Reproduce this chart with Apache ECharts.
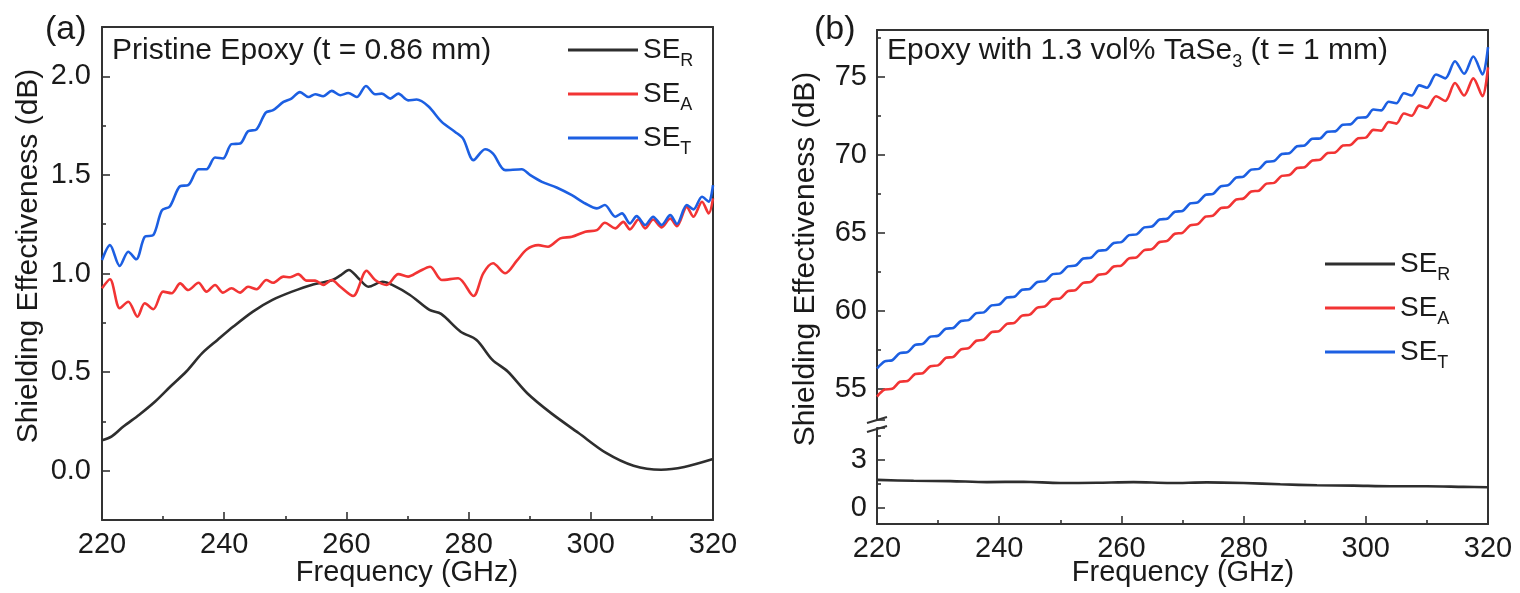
<!DOCTYPE html>
<html>
<head>
<meta charset="utf-8">
<script src="https://cdn.jsdelivr.net/npm/echarts@6/dist/echarts.min.js"></script>
<style>
html,body{margin:0;padding:0;background:#ffffff;}
#chart{width:1520px;height:593px;}
</style>
</head>
<body>
<div id="chart"></div>
<script>
// ---------------- DATA ----------------
// Panel (a): Pristine Epoxy (t = 0.86 mm)
const aFreqR = [220,221.6,223.5,226.1,228.7,231.2,233.8,236.4,238.9,241.5,244.7,247.9,251.1,254.3,257.5,259.1,260.4,262.0,263.6,265.9,267.5,270.4,273.6,275.5,278.7,281.3,283.9,286.4,289.6,293.5,298.0,302.5,307.0,311.5,315.3,320];
const aSER   = [0.154,0.174,0.224,0.284,0.351,0.427,0.503,0.596,0.663,0.731,0.807,0.866,0.908,0.942,0.964,0.992,1.018,0.975,0.933,0.958,0.942,0.891,0.815,0.795,0.705,0.663,0.562,0.503,0.393,0.292,0.191,0.090,0.025,0.005,0.019,0.059];

const aFreqA = [220,221.3,222.9,224.3,225.8,227.0,228.4,230.0,231.4,232.8,234.1,235.8,237.1,238.5,239.8,241.2,242.6,243.9,245.3,246.9,248.0,249.7,250.8,252.1,253.5,254.9,256.2,257.6,259.0,261.1,263.3,264.7,266.6,268.5,270.1,271.8,273.7,275.6,278.3,280.8,282.4,284.0,286.0,287.9,289.5,291.4,293.0,295.0,296.9,299.1,301.0,302.3,304.0,305.3,306.4,307.8,308.9,310.2,311.6,313.0,314.1,315.7,316.8,318.2,319.3,320];
const aSEA   = [0.925,0.971,0.824,0.857,0.781,0.849,0.819,0.908,0.900,0.950,0.916,0.953,0.908,0.942,0.903,0.925,0.903,0.933,0.920,0.967,0.953,0.984,0.981,0.997,0.964,0.964,0.942,0.967,0.933,0.886,1.014,0.967,0.942,0.997,0.984,1.009,1.034,0.967,0.976,0.886,1.001,1.052,1.001,1.065,1.122,1.144,1.136,1.178,1.186,1.212,1.220,1.257,1.229,1.262,1.224,1.274,1.229,1.274,1.234,1.279,1.240,1.338,1.288,1.364,1.305,1.381];

const aFreqT = [220,221.3,222.9,224.3,225.6,227.0,228.4,229.8,231.1,232.8,234.1,235.8,237.1,238.5,239.8,241.2,242.6,243.9,245.3,246.8,248.0,249.7,251.0,252.4,253.8,254.9,256.2,257.6,259.0,260.3,261.7,263.2,264.7,265.8,267.2,268.5,270.1,271.5,273.4,275.6,277.8,279.1,280.8,282.7,284.0,286.0,288.7,290.1,292.0,294.4,296.9,299.1,301.0,302.3,304.0,305.1,306.4,307.5,308.9,310.2,311.6,313.0,314.1,315.7,316.8,318.2,319.3,320];
const aSET   = [1.068,1.144,1.038,1.110,1.072,1.186,1.195,1.320,1.340,1.443,1.448,1.529,1.529,1.588,1.583,1.656,1.659,1.721,1.731,1.816,1.828,1.870,1.887,1.920,1.895,1.909,1.899,1.926,1.904,1.915,1.895,1.951,1.909,1.912,1.887,1.912,1.878,1.882,1.848,1.769,1.718,1.684,1.575,1.630,1.608,1.524,1.529,1.499,1.465,1.436,1.397,1.355,1.330,1.347,1.288,1.305,1.254,1.291,1.246,1.288,1.246,1.296,1.251,1.347,1.325,1.389,1.364,1.448];

// Panel (b): Epoxy with 1.3 vol% TaSe3 (t = 1 mm)
const bFreq = [220,221.25,222.5,223.75,225,226.25,227.5,228.75,230,231.25,232.5,233.75,235,236.25,237.5,238.75,240,241.25,242.5,243.75,245,246.25,247.5,248.75,250,251.25,252.5,253.75,255,256.25,257.5,258.75,260,261.25,262.5,263.75,265,266.25,267.5,268.75,270,271.25,272.5,273.75,275,276.25,277.5,278.75,280,281.25,282.5,283.75,285,286.25,287.5,288.75,290,291.25,292.5,293.75,295,296.25,297.5,298.75,300,301.25,302.5,303.75,305,306.25,307.5,308.75,310,311.5,313,314.6,316.1,317.6,319.1,320];
const bSET = [56.30,56.76,56.83,57.29,57.35,57.81,57.88,58.34,58.40,58.85,58.90,59.35,59.40,59.85,59.90,60.35,60.40,60.85,60.90,61.35,61.40,61.85,61.90,62.35,62.40,62.85,62.90,63.35,63.40,63.85,63.90,64.35,64.40,64.85,64.90,65.35,65.40,65.85,65.90,66.35,66.40,66.88,66.95,67.43,67.50,67.98,68.05,68.53,68.60,69.05,69.10,69.55,69.60,70.05,70.10,70.55,70.60,71.03,71.05,71.48,71.50,71.93,71.95,72.38,72.40,72.90,72.85,73.40,73.30,73.95,73.80,74.45,74.30,75.15,74.90,76.00,75.20,76.30,75.15,76.90];
const bSEA = [54.50,54.95,55.00,55.45,55.50,55.95,56.00,56.45,56.50,56.98,57.05,57.53,57.60,58.08,58.15,58.63,58.70,59.16,59.23,59.69,59.75,60.21,60.28,60.74,60.80,61.26,61.33,61.79,61.85,62.31,62.38,62.84,62.90,63.36,63.43,63.89,63.95,64.41,64.48,64.94,65.00,65.48,65.55,66.03,66.10,66.58,66.65,67.13,67.20,67.65,67.70,68.15,68.20,68.65,68.70,69.15,69.20,69.64,69.68,70.11,70.15,70.59,70.63,71.06,71.10,71.60,71.55,72.10,72.00,72.65,72.50,73.15,73.00,73.75,73.45,74.60,73.80,74.90,73.75,75.60];
const bFreqR = [220,226,232,238,244,250,256,262,268,274,280,286,292,298,304,310,316,320];
const bSER   = [1.76,1.70,1.68,1.62,1.64,1.56,1.58,1.62,1.56,1.60,1.56,1.48,1.42,1.40,1.36,1.36,1.32,1.30];

// Axis settings / tick labels
const freqMin = 220, freqMax = 320, freqStep = 20;
const aYRange = [-0.25, 2.25];
const bUpperRange = [53, 78];
const bLowerRange = [-1, 5];
const seriesNames = ['SE_R', 'SE_A', 'SE_T'];
const subLetters = {SE_R: 'R', SE_A: 'A', SE_T: 'T'};

// ---------------- STYLE ----------------
const FONT = '"Liberation Sans", Arial, Helvetica, sans-serif';
const INK = '#1a1a1a';
const AX = '#333333';
const COL = {SE_R: '#2e2e2e', SE_A: '#f23434', SE_T: '#1c5fe2'};

function zip(xs, ys) { return xs.map((x, i) => [x, ys[i]]); }

function lineAxis(extra) {
  return Object.assign({
    type: 'value', min: 0, max: 1,
    axisLine: {show: true, onZero: false, lineStyle: {color: AX, width: 2}},
    axisTick: {show: false}, minorTick: {show: false},
    axisLabel: {show: false}, splitLine: {show: false}
  }, extra);
}
function tickAxis(extra, labelExtra) {
  return Object.assign({
    type: 'value',
    axisLine: {show: true, onZero: false, lineStyle: {color: AX, width: 2}},
    axisTick: {show: true, inside: true, length: 8, lineStyle: {color: AX, width: 1.6}},
    minorTick: {show: true, splitNumber: 2, length: 4, lineStyle: {color: AX, width: 1.6}},
    axisLabel: Object.assign({fontSize: 29, color: INK, fontFamily: FONT}, labelExtra),
    splitLine: {show: false}, minorSplitLine: {show: false}
  }, extra);
}
function lineSeries(name, xi, yi, data) {
  return {
    type: 'line', name: name, xAxisIndex: xi, yAxisIndex: yi, data: data,
    showSymbol: false, symbol: 'none', smooth: 0.3,
    lineStyle: {color: COL[name], width: 2.6},
    itemStyle: {color: COL[name]}, emphasis: {disabled: true}
  };
}
const legendRich = {
  a: {fontSize: 28, lineHeight: 40, verticalAlign: 'middle', color: INK, fontFamily: FONT},
  b: {fontSize: 18, lineHeight: 18, verticalAlign: 'bottom', color: INK, fontFamily: FONT}
};
function legendAt(left, top) {
  return {
    left: left, top: top, orient: 'vertical', icon: 'rect',
    itemWidth: 70, itemHeight: 3, itemGap: 10, padding: 0,
    data: seriesNames, selectedMode: false,
    formatter: n => '{a|SE}{b|' + subLetters[n] + '}',
    textStyle: {rich: legendRich, fontFamily: FONT}
  };
}

const option = {
  animation: false,
  backgroundColor: '#ffffff',
  textStyle: {fontFamily: FONT},
  grid: [
    {left: 102, top: 27, width: 611, height: 493, outerBoundsMode: 'none', containLabel: false},
    {left: 877, top: 30, width: 611, height: 390, outerBoundsMode: 'none', containLabel: false},
    {left: 877, top: 428, width: 611, height: 96, outerBoundsMode: 'none', containLabel: false},
    {left: 877, top: 30, width: 611, height: 494, outerBoundsMode: 'none', containLabel: false}
  ],
  xAxis: [
    tickAxis({gridIndex: 0, position: 'bottom', min: freqMin, max: freqMax, interval: freqStep},
             {margin: 10, showMinLabel: true, showMaxLabel: true}),
    lineAxis({gridIndex: 0, position: 'top'}),
    {gridIndex: 1, type: 'value', min: freqMin, max: freqMax, show: false, splitLine: {show: false}},
    tickAxis({gridIndex: 2, position: 'bottom', min: freqMin, max: freqMax, interval: freqStep},
             {margin: 10, showMinLabel: true, showMaxLabel: true}),
    lineAxis({gridIndex: 3, position: 'top'})
  ],
  yAxis: [
    tickAxis({gridIndex: 0, position: 'left', min: aYRange[0], max: aYRange[1], splitNumber: 5},
             {margin: 11, showMinLabel: false, showMaxLabel: false, formatter: v => v.toFixed(1)}),
    lineAxis({gridIndex: 0, position: 'right'}),
    tickAxis({gridIndex: 1, position: 'left', min: bUpperRange[0], max: bUpperRange[1], splitNumber: 5},
             {margin: 10, showMinLabel: false, showMaxLabel: false}),
    tickAxis({gridIndex: 2, position: 'left', min: bLowerRange[0], max: bLowerRange[1], splitNumber: 2},
             {margin: 10, showMinLabel: false, showMaxLabel: false}),
    lineAxis({gridIndex: 3, position: 'right'})
  ],
  legend: [legendAt(568, 36), legendAt(1325, 250)],
  series: [
    lineSeries('SE_R', 0, 0, zip(aFreqR, aSER)),
    lineSeries('SE_A', 0, 0, zip(aFreqA, aSEA)),
    lineSeries('SE_T', 0, 0, zip(aFreqT, aSET)),
    lineSeries('SE_R', 3, 3, zip(bFreqR, bSER)),
    lineSeries('SE_A', 2, 2, zip(bFreq, bSEA)),
    lineSeries('SE_T', 2, 2, zip(bFreq, bSET))
  ],
  graphic: [
    {type: 'text', x: 45, y: 30, style: {text: '(a)', font: '34px ' + FONT, fill: INK, align: 'left', verticalAlign: 'middle'}},
    {type: 'text', x: 814, y: 30, style: {text: '(b)', font: '34px ' + FONT, fill: INK, align: 'left', verticalAlign: 'middle'}},
    {type: 'text', x: 112, y: 51, style: {text: 'Pristine Epoxy (t = 0.86 mm)', font: '30px ' + FONT, fill: INK, align: 'left', verticalAlign: 'middle'}},
    {type: 'text', x: 887, y: 51, style: {
      text: '{a|Epoxy with 1.3 vol% TaSe}{b|3}{a| (t = 1 mm)}', align: 'left', verticalAlign: 'middle',
      rich: {
        a: {fontSize: 30, lineHeight: 40, verticalAlign: 'middle', fill: INK, fontFamily: FONT},
        b: {fontSize: 18, lineHeight: 18, verticalAlign: 'bottom', fill: INK, fontFamily: FONT}
      }}},
    {type: 'text', x: 29, y: 256, rotation: Math.PI / 2, style: {text: 'Shielding Effectiveness (dB)', font: '30px ' + FONT, fill: INK, align: 'center', verticalAlign: 'middle'}},
    {type: 'text', x: 806, y: 259, rotation: Math.PI / 2, style: {text: 'Shielding Effectiveness (dB)', font: '30px ' + FONT, fill: INK, align: 'center', verticalAlign: 'middle'}},
    {type: 'text', x: 407, y: 573, style: {text: 'Frequency (GHz)', font: '29px ' + FONT, fill: INK, align: 'center', verticalAlign: 'middle'}},
    {type: 'text', x: 1183, y: 573, style: {text: 'Frequency (GHz)', font: '29px ' + FONT, fill: INK, align: 'center', verticalAlign: 'middle'}},
    {type: 'line', shape: {x1: 867, y1: 423, x2: 887, y2: 417}, style: {stroke: AX, lineWidth: 2}},
    {type: 'line', shape: {x1: 867, y1: 432, x2: 887, y2: 426}, style: {stroke: AX, lineWidth: 2}}
  ]
};

const chart = echarts.init(document.getElementById('chart'), null, {renderer: 'canvas'});
chart.setOption(option);
</script>
</body>
</html>
